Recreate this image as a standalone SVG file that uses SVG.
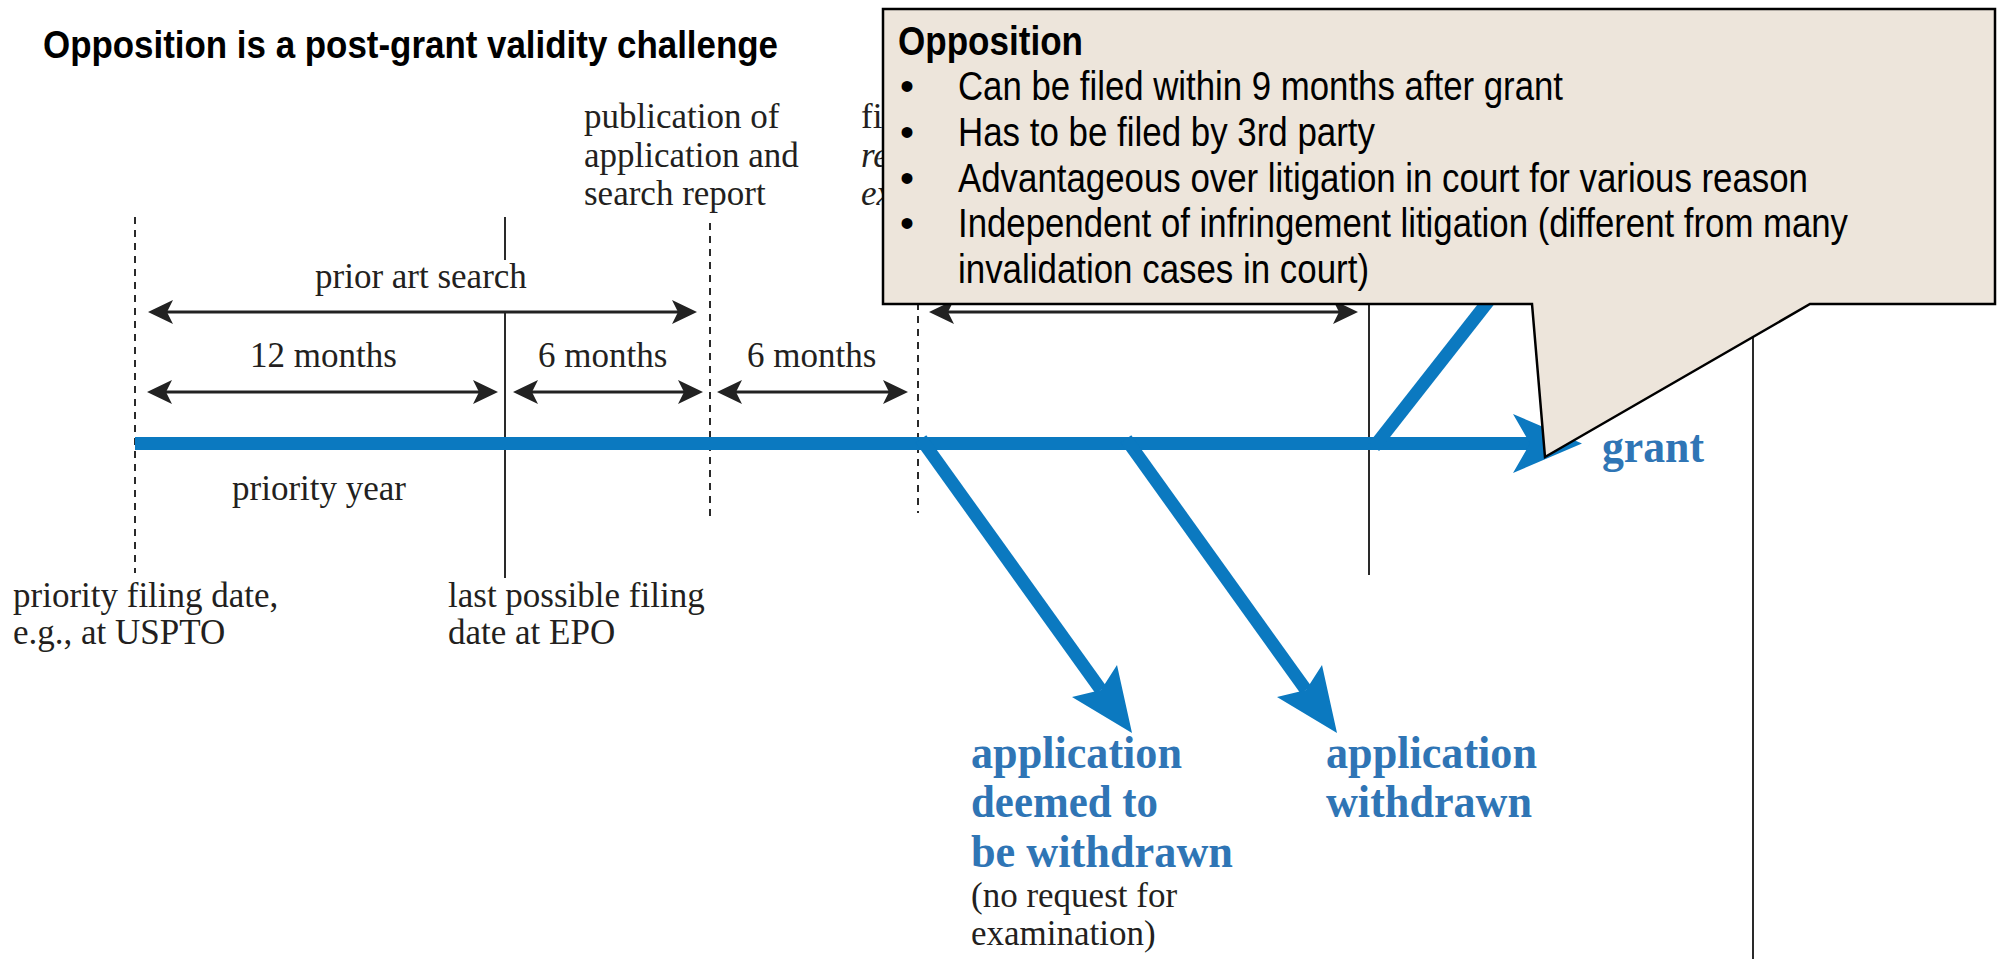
<svg xmlns="http://www.w3.org/2000/svg" width="1997" height="959" viewBox="0 0 1997 959">
<style>
.t{font-family:"Liberation Serif","Times New Roman",serif;font-size:35px;fill:#231f20}
.ti{font-style:italic}
.b{font-family:"Liberation Serif","Times New Roman",serif;font-size:47px;font-weight:bold;fill:#2f75b5}
.dash{stroke:#2a2a2a;stroke-width:2;stroke-dasharray:7 6;fill:none}
.sol{stroke:#2a2a2a;stroke-width:2;fill:none}
.dim{stroke:#222;stroke-width:3;fill:none;marker-start:url(#ah);marker-end:url(#ah)}
.blue{stroke:#0b79c0;stroke-width:13;fill:none}
.bh{fill:#0b79c0}
.ct{font-family:"Liberation Sans",Arial,sans-serif;font-size:40px;fill:#000}
</style>
<defs>
<marker id="ah" markerUnits="userSpaceOnUse" markerWidth="40" markerHeight="30" viewBox="-30 -15 40 30" refX="0" refY="0" orient="auto-start-reverse" overflow="visible">
<path d="M4,0 L-21,-12 L-15,0 L-21,12 Z" fill="#222"/>
</marker>
</defs>
<rect width="1997" height="959" fill="#fff"/>

<g id="title">
<text x="43" y="58" font-family="Liberation Sans, Arial, sans-serif" font-size="38" font-weight="bold" fill="#000" textLength="735" lengthAdjust="spacingAndGlyphs">Opposition is a post-grant validity challenge</text>
</g>

<g id="guides">
<line class="dash" x1="135" y1="217" x2="135" y2="573"/>
<line class="dash" x1="710" y1="223" x2="710" y2="518"/>
<line class="dash" x1="918" y1="290" x2="918" y2="513"/>
<line class="sol" x1="505" y1="217" x2="505" y2="260"/>
<line class="sol" x1="505" y1="312" x2="505" y2="578"/>
<line class="sol" x1="1369" y1="290" x2="1369" y2="575"/>
<line class="sol" x1="1753" y1="290" x2="1753" y2="959"/>
</g>

<g id="connectors">
<line class="dim" x1="152" y1="312" x2="693" y2="312"/>
<line class="dim" x1="151" y1="392" x2="494" y2="392"/>
<line class="dim" x1="517" y1="392" x2="699" y2="392"/>
<line class="dim" x1="721" y1="392" x2="904" y2="392"/>
<line class="dim" x1="933" y1="312" x2="1354" y2="312"/>
<line class="blue" x1="135" y1="443.5" x2="1535" y2="443.5"/>
<path class="bh" d="M1582,443.5 L1513,414 L1530,443.5 L1513,473 Z"/>
<line class="blue" x1="1374" y1="447" x2="1505" y2="280"/>
<line class="blue" x1="921" y1="439" x2="1101" y2="690"/>
<path class="bh" d="M1132,733 L1117,665 L1101,690 L1072,697 Z"/>
<line class="blue" x1="1126" y1="439" x2="1306" y2="690"/>
<path class="bh" d="M1337,733 L1322,665 L1306,690 L1277,697 Z"/>
</g>

<g id="labels">
<text class="t" x="584" y="128">publication of</text>
<text class="t" x="584" y="167">application and</text>
<text class="t" x="584" y="205">search report</text>
<text class="t" x="861" y="128">fi</text>
<text class="t ti" x="861" y="167">re</text>
<text class="t ti" x="861" y="205">ex</text>
<text class="t" x="315" y="288">prior art search</text>
<text class="t" x="250" y="367">12 months</text>
<text class="t" x="538" y="367">6 months</text>
<text class="t" x="747" y="367">6 months</text>
<text class="t" x="232" y="500">priority year</text>
<text class="t" x="13" y="607">priority filing date,</text>
<text class="t" x="13" y="644">e.g., at USPTO</text>
<text class="t" x="448" y="607">last possible filing</text>
<text class="t" x="448" y="644">date at EPO</text>
</g>

<g id="outcome-grant">
<text class="b" x="1602" y="462" textLength="102" lengthAdjust="spacingAndGlyphs">grant</text>
</g>
<g id="outcome-deemed">
<text class="b" x="971" y="768" textLength="211" lengthAdjust="spacingAndGlyphs">application</text>
<text class="b" x="971" y="817" textLength="187" lengthAdjust="spacingAndGlyphs">deemed to</text>
<text class="b" x="971" y="867" textLength="262" lengthAdjust="spacingAndGlyphs">be withdrawn</text>
<text class="t" x="971" y="907">(no request for</text>
<text class="t" x="971" y="945">examination)</text>
</g>
<g id="outcome-withdrawn">
<text class="b" x="1326" y="768" textLength="211" lengthAdjust="spacingAndGlyphs">application</text>
<text class="b" x="1326" y="817" textLength="206" lengthAdjust="spacingAndGlyphs">withdrawn</text>
</g>

<g id="callout">
<path d="M883,9 L1995,9 L1995,304 L1810,304 L1545,457 L1532,304 L883,304 Z" fill="#ede5db" stroke="#000" stroke-width="2.5" stroke-linejoin="miter"/>
<text class="ct" x="898" y="55" font-weight="bold" textLength="185" lengthAdjust="spacingAndGlyphs">Opposition</text>
<text class="ct" x="907" y="100" text-anchor="middle">•</text>
<text class="ct" x="907" y="146" text-anchor="middle">•</text>
<text class="ct" x="907" y="192" text-anchor="middle">•</text>
<text class="ct" x="907" y="237" text-anchor="middle">•</text>
<text class="ct" x="958" y="100" textLength="605" lengthAdjust="spacingAndGlyphs">Can be filed within 9 months after grant</text>
<text class="ct" x="958" y="146" textLength="417" lengthAdjust="spacingAndGlyphs">Has to be filed by 3rd party</text>
<text class="ct" x="958" y="192" textLength="850" lengthAdjust="spacingAndGlyphs">Advantageous over litigation in court for various reason</text>
<text class="ct" x="958" y="237" textLength="890" lengthAdjust="spacingAndGlyphs">Independent of infringement litigation (different from many</text>
<text class="ct" x="958" y="283" textLength="411" lengthAdjust="spacingAndGlyphs">invalidation cases in court)</text>
</g>
</svg>
